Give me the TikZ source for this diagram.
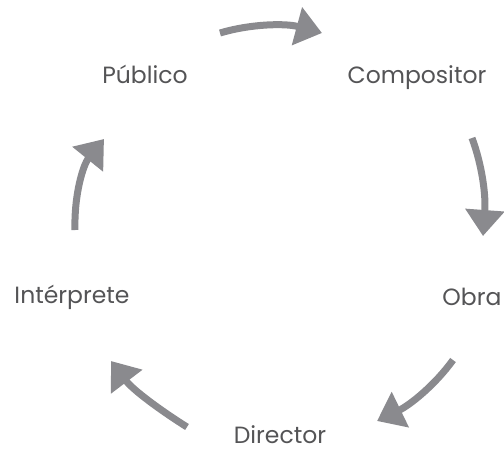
\documentclass[tikz,border=0pt]{standalone}
\usepackage{fontspec}
\setmainfont{Poppins}
\usetikzlibrary{arrows.meta}
\definecolor{arrowgray}{RGB}{138,138,142}
\definecolor{textgray}{RGB}{84,84,86}
\tikzset{
  cyclearrow/.style={draw=arrowgray, line width=7pt,
    -{Triangle[width=38pt,length=26pt]}},
  lbl/.style={anchor=base, text=textgray, font=\fontsize{23.5}{27}\selectfont, inner sep=0pt}
}
\begin{document}
\begin{tikzpicture}[x=1pt,y=-1pt]
\useasboundingbox (0,0) rectangle (504,451);
\node[lbl] (publico) at (145,83) {Público};
\node[lbl] (compositor) at (417,83) {Compositor};
\node[lbl] (obra) at (472,305) {Obra};
\node[lbl] (director) at (280,443) {Director};
\node[lbl] (interprete) at (72,303) {Intérprete};
\coordinate (a1s) at (220,33);
\coordinate (a1e) at (322,33);
\coordinate (a2s) at (472,138);
\coordinate (a2e) at (483,236);
\coordinate (a3s) at (453,360);
\coordinate (a3e) at (377,421);
\coordinate (a4s) at (187,427);
\coordinate (a4e) at (111,361);
\coordinate (a5s) at (75,230);
\coordinate (a5e) at (104,139);
\draw[cyclearrow] (a1s) .. controls (250,24) and (285,23) .. (a1e);
\draw[cyclearrow] (a2s) .. controls (482,165) and (486,195) .. (a2e);
\draw[cyclearrow] (a3s) .. controls (435,385) and (410,405) .. (a3e);
\draw[cyclearrow] (a4s) .. controls (160,410) and (133,390) .. (a4e);
\draw[cyclearrow] (a5s) .. controls (74,195) and (83,165) .. (a5e);
\end{tikzpicture}
\end{document}
